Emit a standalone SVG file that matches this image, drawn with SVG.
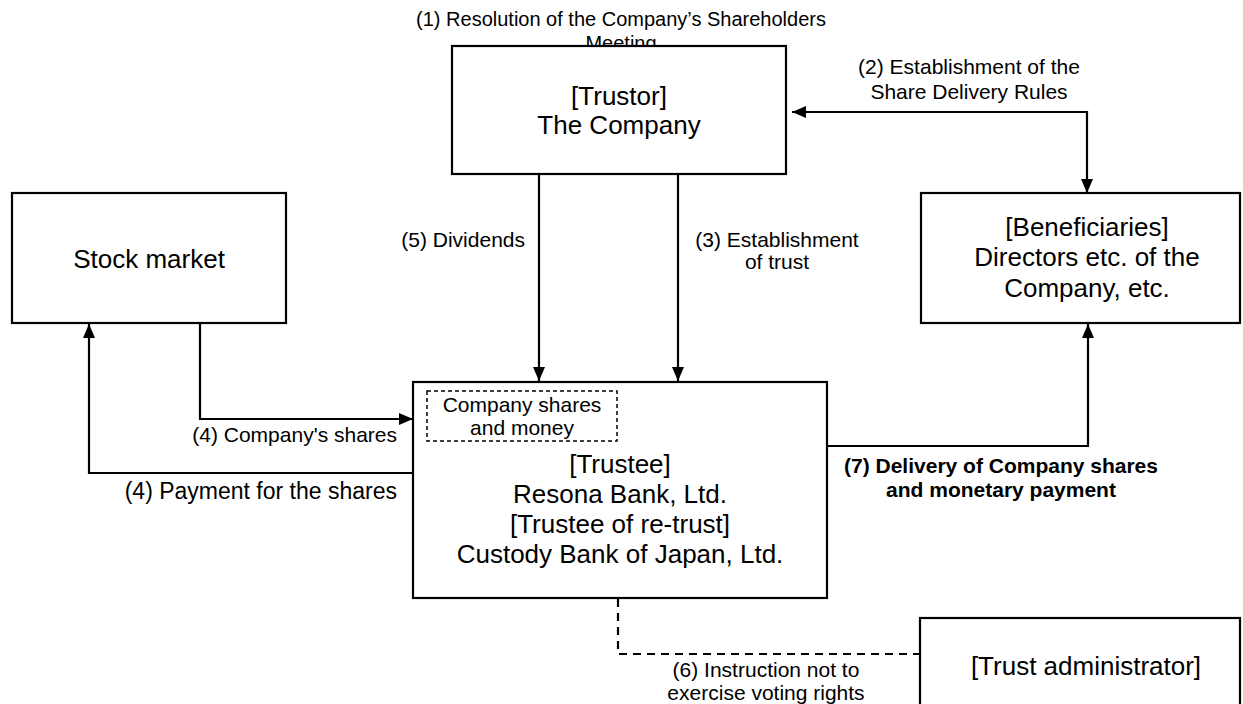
<svg xmlns="http://www.w3.org/2000/svg" width="1243" height="704" viewBox="0 0 1243 704">
<style>
text{font-family:"Liberation Sans",Arial,sans-serif;fill:#000}
.box{fill:#fff;stroke:#000;stroke-width:2.2}
.nt{font-size:26px;text-anchor:middle}
.lb{font-size:21px}
.c{text-anchor:middle}
.e{text-anchor:end}
.b{font-weight:bold}
.ln{fill:none;stroke:#000;stroke-width:2.2}
.dash{fill:none;stroke:#000;stroke-width:2.2;stroke-dasharray:8 6}
.idash{fill:none;stroke:#000;stroke-width:1.5;stroke-dasharray:4 3}
</style>
<defs>
<marker id="ah" viewBox="0 0 14 12" refX="14" refY="6" markerWidth="14" markerHeight="12" markerUnits="userSpaceOnUse" orient="auto-start-reverse">
<path d="M0,0 L14,6 L0,12 Z" fill="#000"/>
</marker>
</defs>
<text class="lb c" x="621" y="26" font-size="20" style="font-size:20px">(1) Resolution of the Company’s Shareholders</text>
<text class="lb c" x="621" y="50" style="font-size:20px">Meeting</text>
<g id="trustor">
<rect class="box" x="452" y="46" width="334" height="128"/>
<text class="nt" x="619" y="105">[Trustor]</text>
<text class="nt" x="619" y="134">The Company</text>
</g>
<g id="stock-market">
<rect class="box" x="12" y="193" width="274" height="130"/>
<text class="nt" x="149" y="268">Stock market</text>
</g>
<g id="beneficiaries">
<rect class="box" x="921" y="193" width="319" height="130"/>
<text class="nt" x="1087" y="236">[Beneficiaries]</text>
<text class="nt" x="1087" y="266">Directors etc. of the</text>
<text class="nt" x="1087" y="297">Company, etc.</text>
</g>
<g id="trustee">
<rect class="box" x="413" y="382" width="414" height="216"/>
<rect class="idash" x="427" y="391" width="190" height="50"/>
<text class="lb c" x="522" y="412">Company shares</text>
<text class="lb c" x="522" y="435">and money</text>
<text class="nt" x="620" y="473">[Trustee]</text>
<text class="nt" x="620" y="503">Resona Bank, Ltd.</text>
<text class="nt" x="620" y="533">[Trustee of re-trust]</text>
<text class="nt" x="620" y="563">Custody Bank of Japan, Ltd.</text>
</g>
<g id="trust-administrator">
<rect class="box" x="920" y="618" width="320" height="100"/>
<text class="nt" x="1086" y="675">[Trust administrator]</text>
</g>
<g id="connectors">
<path class="ln" d="M792,112 H1087 V193" marker-start="url(#ah)" marker-end="url(#ah)"/>
<path class="ln" d="M539,174 V381" marker-end="url(#ah)"/>
<path class="ln" d="M678,174 V381" marker-end="url(#ah)"/>
<path class="ln" d="M200,323 V419 H413" marker-end="url(#ah)"/>
<path class="ln" d="M413,473 H89 V324" marker-end="url(#ah)"/>
<path class="ln" d="M827,446 H1088 V324" marker-end="url(#ah)"/>
<path class="dash" d="M618,599 V654 H920"/>
</g>
<g id="labels">
<text class="lb c" x="969" y="74">(2) Establishment of the</text>
<text class="lb c" x="969" y="99">Share Delivery Rules</text>
<text class="lb e" x="525" y="247">(5) Dividends</text>
<text class="lb c" x="777" y="247">(3) Establishment</text>
<text class="lb c" x="777" y="269">of trust</text>
<text class="lb e" x="397" y="442">(4) Company's shares</text>
<text class="e" x="397" y="499" style="font-size:23px">(4) Payment for the shares</text>
<text class="lb c b" x="1001" y="473">(7) Delivery of Company shares</text>
<text class="lb c b" x="1001" y="497">and monetary payment</text>
<text class="lb c" x="766" y="677">(6) Instruction not to</text>
<text class="lb c" x="766" y="700">exercise voting rights</text>
</g>
</svg>
